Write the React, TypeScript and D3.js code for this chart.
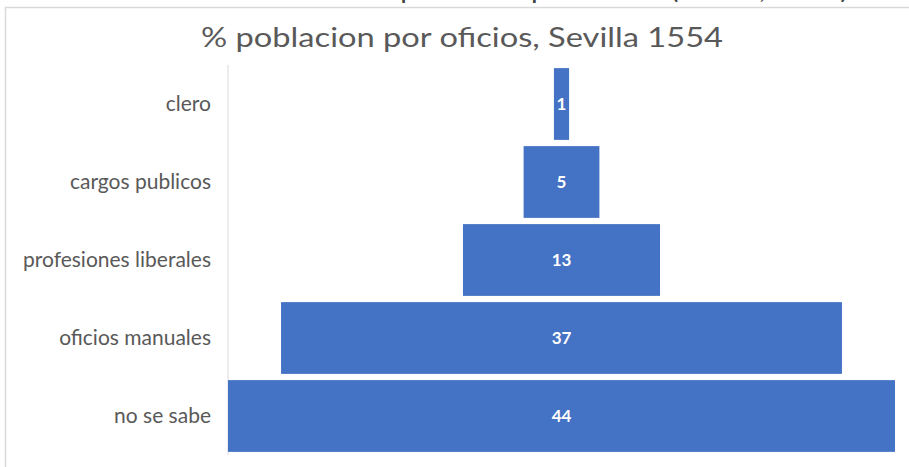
import React from "react";
import * as d3 from "d3";

const categories = ["clero", "cargos publicos", "profesiones liberales", "oficios manuales", "no se sabe"];
const values = [1, 5, 13, 37, 44];
const title = "% poblacion por oficios, Sevilla 1554";
const caption = "Gráfico 1. Distribución de la población por oficios (Sevilla, 1554)";

const W = 909;
const H = 467;

export default function App() {
  const y = d3.scaleBand<string>().domain(categories).range([65, 455]).paddingInner(0.08).paddingOuter(0.04);
  const maxV = d3.max(values) as number;
  const w = d3.scaleLinear().domain([0, maxV]).range([0, 667]);
  const cx = 561.5;
  const axisX = 228;
  const font = "Lato, 'Open Sans', sans-serif";
  return (
    <svg width={W} height={H} style={{ position: "absolute", left: 0, top: 0, background: "#fff" }}>
      <rect x={0} y={0} width={W} height={H} fill="#fff" />
      <text x={40} y={-1} textLength={808} lengthAdjust="spacingAndGlyphs" fontFamily={font} fontSize={22} fill="#404040">
        {caption}
      </text>
      <rect x={5.5} y={7.5} width={W + 10} height={H + 10} fill="#fff" stroke="#d9d9d9" strokeWidth={1.5} />
      <text x={201} y={47} textLength={522} lengthAdjust="spacingAndGlyphs" fontFamily={font} fontSize={27} fill="#595959">
        {title}
      </text>
      <line x1={axisX} x2={axisX} y1={65} y2={455} stroke="#d9d9d9" strokeWidth={1} />
      {categories.map((c, i) => {
        const bw = w(values[i]);
        const by = y(c) as number;
        return (
          <g key={c}>
            <rect x={cx - bw / 2} y={by} width={bw} height={y.bandwidth()} fill="#4472C4" />
            <text
              x={cx}
              y={by + y.bandwidth() / 2}
              dy="0.35em"
              textAnchor="middle"
              fontFamily={font}
              fontSize={17}
              fontWeight={700}
              fill="#ffffff"
            >
              {values[i]}
            </text>
            <text
              x={211}
              y={by + y.bandwidth() / 2}
              dy="0.35em"
              textAnchor="end"
              fontFamily={font}
              fontSize={21}
              fill="#595959"
            >
              {c}
            </text>
          </g>
        );
      })}
    </svg>
  );
}
